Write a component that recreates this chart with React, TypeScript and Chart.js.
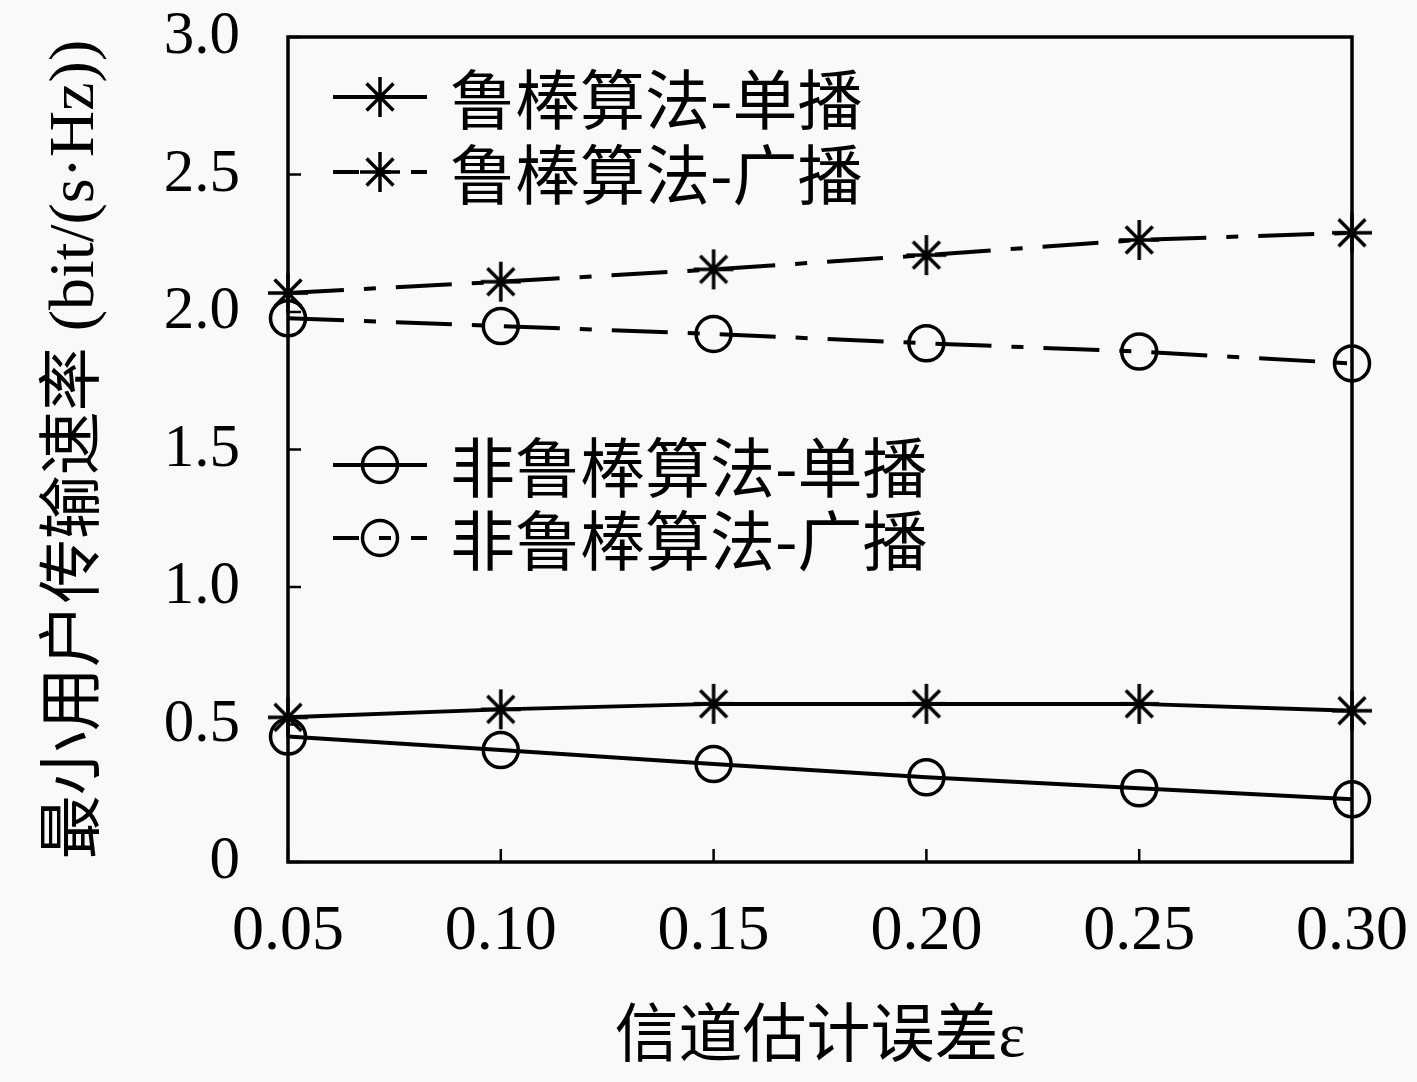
import { useEffect, useRef } from 'react';
import { Chart, registerables } from 'chart.js';

Chart.register(...registerables);

const EPS_LABELS = ['0.05', '0.10', '0.15', '0.20', '0.25', '0.30'];
const Y_MIN = 0;
const Y_MAX = 3;
const Y_STEP = 0.5;

const ROBUST_UNICAST = [0.526, 0.555, 0.575, 0.575, 0.575, 0.55];
const ROBUST_BROADCAST = [2.069, 2.11, 2.155, 2.207, 2.262, 2.288];
const NONROBUST_UNICAST = [0.456, 0.407, 0.356, 0.308, 0.268, 0.228];
const NONROBUST_BROADCAST = [1.977, 1.949, 1.92, 1.886, 1.856, 1.813];

const SERIES_NAMES = ['鲁棒算法-单播', '鲁棒算法-广播', '非鲁棒算法-单播', '非鲁棒算法-广播'];
const X_TITLE = '信道估计误差ε';
const Y_TITLE = '最小用户传输速率 (bit/(s·Hz))';

const DASH_DOT = [56, 20, 12, 20];
const SERIF = "'Liberation Serif', 'Noto Sans CJK SC', serif";
const CJK = "'Noto Sans CJK SC', sans-serif";

function makeStar(size: number, lw: number) {
  const c = document.createElement('canvas');
  c.width = size;
  c.height = size;
  const g = c.getContext('2d')!;
  const m = size / 2;
  const r = m - 1;
  const d = (r - 1) * Math.SQRT1_2;
  g.strokeStyle = '#000';
  g.lineWidth = lw;
  g.beginPath();
  g.moveTo(m, m - r);
  g.lineTo(m, m + r);
  g.moveTo(m - r, m);
  g.lineTo(m + r, m);
  g.moveTo(m - d, m - d);
  g.lineTo(m + d, m + d);
  g.moveTo(m - d, m + d);
  g.lineTo(m + d, m - d);
  g.stroke();
  return c;
}

// legend rows: [dataset index, y]
const LEGEND_ROWS: [number, number][] = [
  [0, 97],
  [1, 172],
  [2, 465],
  [3, 538],
];

const framePlugin = {
  id: 'frame',
  afterDraw(chart: Chart) {
    const { ctx, chartArea } = chart;
    const { left, right, top, bottom } = chartArea;
    const x = chart.scales.x;
    const y = chart.scales.y;
    ctx.save();
    ctx.strokeStyle = '#000';
    ctx.lineWidth = 2.5;
    ctx.beginPath();
    x.ticks.forEach((_, i) => {
      const px = x.getPixelForTick(i);
      ctx.moveTo(px, bottom);
      ctx.lineTo(px, bottom - 13);
    });
    y.ticks.forEach((_, i) => {
      const py = y.getPixelForTick(i);
      ctx.moveTo(left, py);
      ctx.lineTo(left + 13, py);
    });
    ctx.stroke();
    ctx.lineWidth = 3.5;
    ctx.strokeRect(left, top, right - left, bottom - top);

    // legend
    LEGEND_ROWS.forEach(([di, ly]) => {
      const ds: any = chart.data.datasets[di];
      ctx.lineWidth = ds.borderWidth;
      ctx.setLineDash(ds.borderDash || []);
      ctx.lineDashOffset = 30;
      ctx.beginPath();
      ctx.moveTo(333, ly);
      ctx.lineTo(427, ly);
      ctx.stroke();
      ctx.setLineDash([]);
      if (ds.pointStyle === 'circle') {
        ctx.lineWidth = ds.pointBorderWidth;
        ctx.beginPath();
        ctx.arc(380, ly, ds.pointRadius, 0, Math.PI * 2);
        ctx.stroke();
      } else {
        const img = ds.pointStyle as HTMLCanvasElement;
        ctx.drawImage(img, 380 - img.width / 2, ly - img.height / 2);
      }
      ctx.fillStyle = '#000';
      ctx.font = `65px ${CJK}`;
      ctx.textAlign = 'left';
      ctx.textBaseline = 'middle';
      ctx.fillText(SERIES_NAMES[di], 450, ly + 2);
    });
    ctx.restore();
  },
};

export default function App() {
  const ref = useRef<HTMLCanvasElement>(null);
  const chartRef = useRef<Chart | null>(null);

  useEffect(() => {
    if (!ref.current) return;
    const ctx = ref.current.getContext('2d');
    if (!ctx) return;
    const star = makeStar(42, 3.5);
    const circle = {
      pointStyle: 'circle',
      pointRadius: 17.5,
      pointBorderWidth: 3.5,
      pointBackgroundColor: 'rgba(0,0,0,0)',
    };
    const starPt = { pointStyle: star, pointRadius: 21 };
    const base = {
      borderColor: '#000',
      pointBorderColor: '#000',
      borderWidth: 4,
      clip: false as const,
    };
    chartRef.current = new Chart(ctx, {
      type: 'line',
      data: {
        labels: EPS_LABELS,
        datasets: [
          { ...base, ...starPt, label: SERIES_NAMES[0], data: ROBUST_UNICAST, borderDash: [] },
          { ...base, ...starPt, label: SERIES_NAMES[1], data: ROBUST_BROADCAST, borderDash: DASH_DOT },
          { ...base, ...circle, label: SERIES_NAMES[2], data: NONROBUST_UNICAST, borderDash: [] },
          { ...base, ...circle, label: SERIES_NAMES[3], data: NONROBUST_BROADCAST, borderDash: DASH_DOT },
        ] as any,
      },
      options: {
        animation: false,
        responsive: true,
        maintainAspectRatio: false,
        layout: { padding: { top: 37, right: 65, left: 0, bottom: 0 } },
        plugins: { legend: { display: false }, tooltip: { enabled: false } },
        scales: {
          x: {
            type: 'category',
            offset: false,
            grid: { display: false, drawTicks: false },
            border: { display: false },
            ticks: { color: '#000', font: { family: SERIF, size: 64 }, padding: 32, maxRotation: 0 },
            title: {
              display: true,
              text: X_TITLE,
              color: '#000',
              font: { family: SERIF, size: 64 },
              padding: { top: 0, bottom: 4 },
            },
            afterFit: (s: any) => {
              s.height = 220;
              s.paddingLeft = 0;
              s.paddingRight = 0;
            },
          },
          y: {
            min: Y_MIN,
            max: Y_MAX,
            grid: { display: false, drawTicks: false },
            border: { display: false },
            ticks: {
              stepSize: Y_STEP,
              color: '#000',
              font: { family: SERIF, size: 61 },
              padding: 48,
              callback: (v) => (Number(v) === 0 ? '0' : Number(v).toFixed(1)),
            },
            title: {
              display: true,
              text: Y_TITLE,
              color: '#000',
              font: { family: SERIF, size: 64 },
              padding: { top: 38, bottom: 0 },
            },
            afterFit: (s: any) => {
              s.width = 288;
              s.paddingTop = 0;
              s.paddingBottom = 0;
            },
          },
        },
      },
      plugins: [framePlugin],
    });
    return () => {
      chartRef.current?.destroy();
      chartRef.current = null;
    };
  }, []);

  return (
    <div
      style={{
        position: 'fixed',
        left: 0,
        top: 0,
        width: 1417,
        height: 1082,
        background: '#f9f9f9',
      }}
    >
      <canvas ref={ref} />
    </div>
  );
}
